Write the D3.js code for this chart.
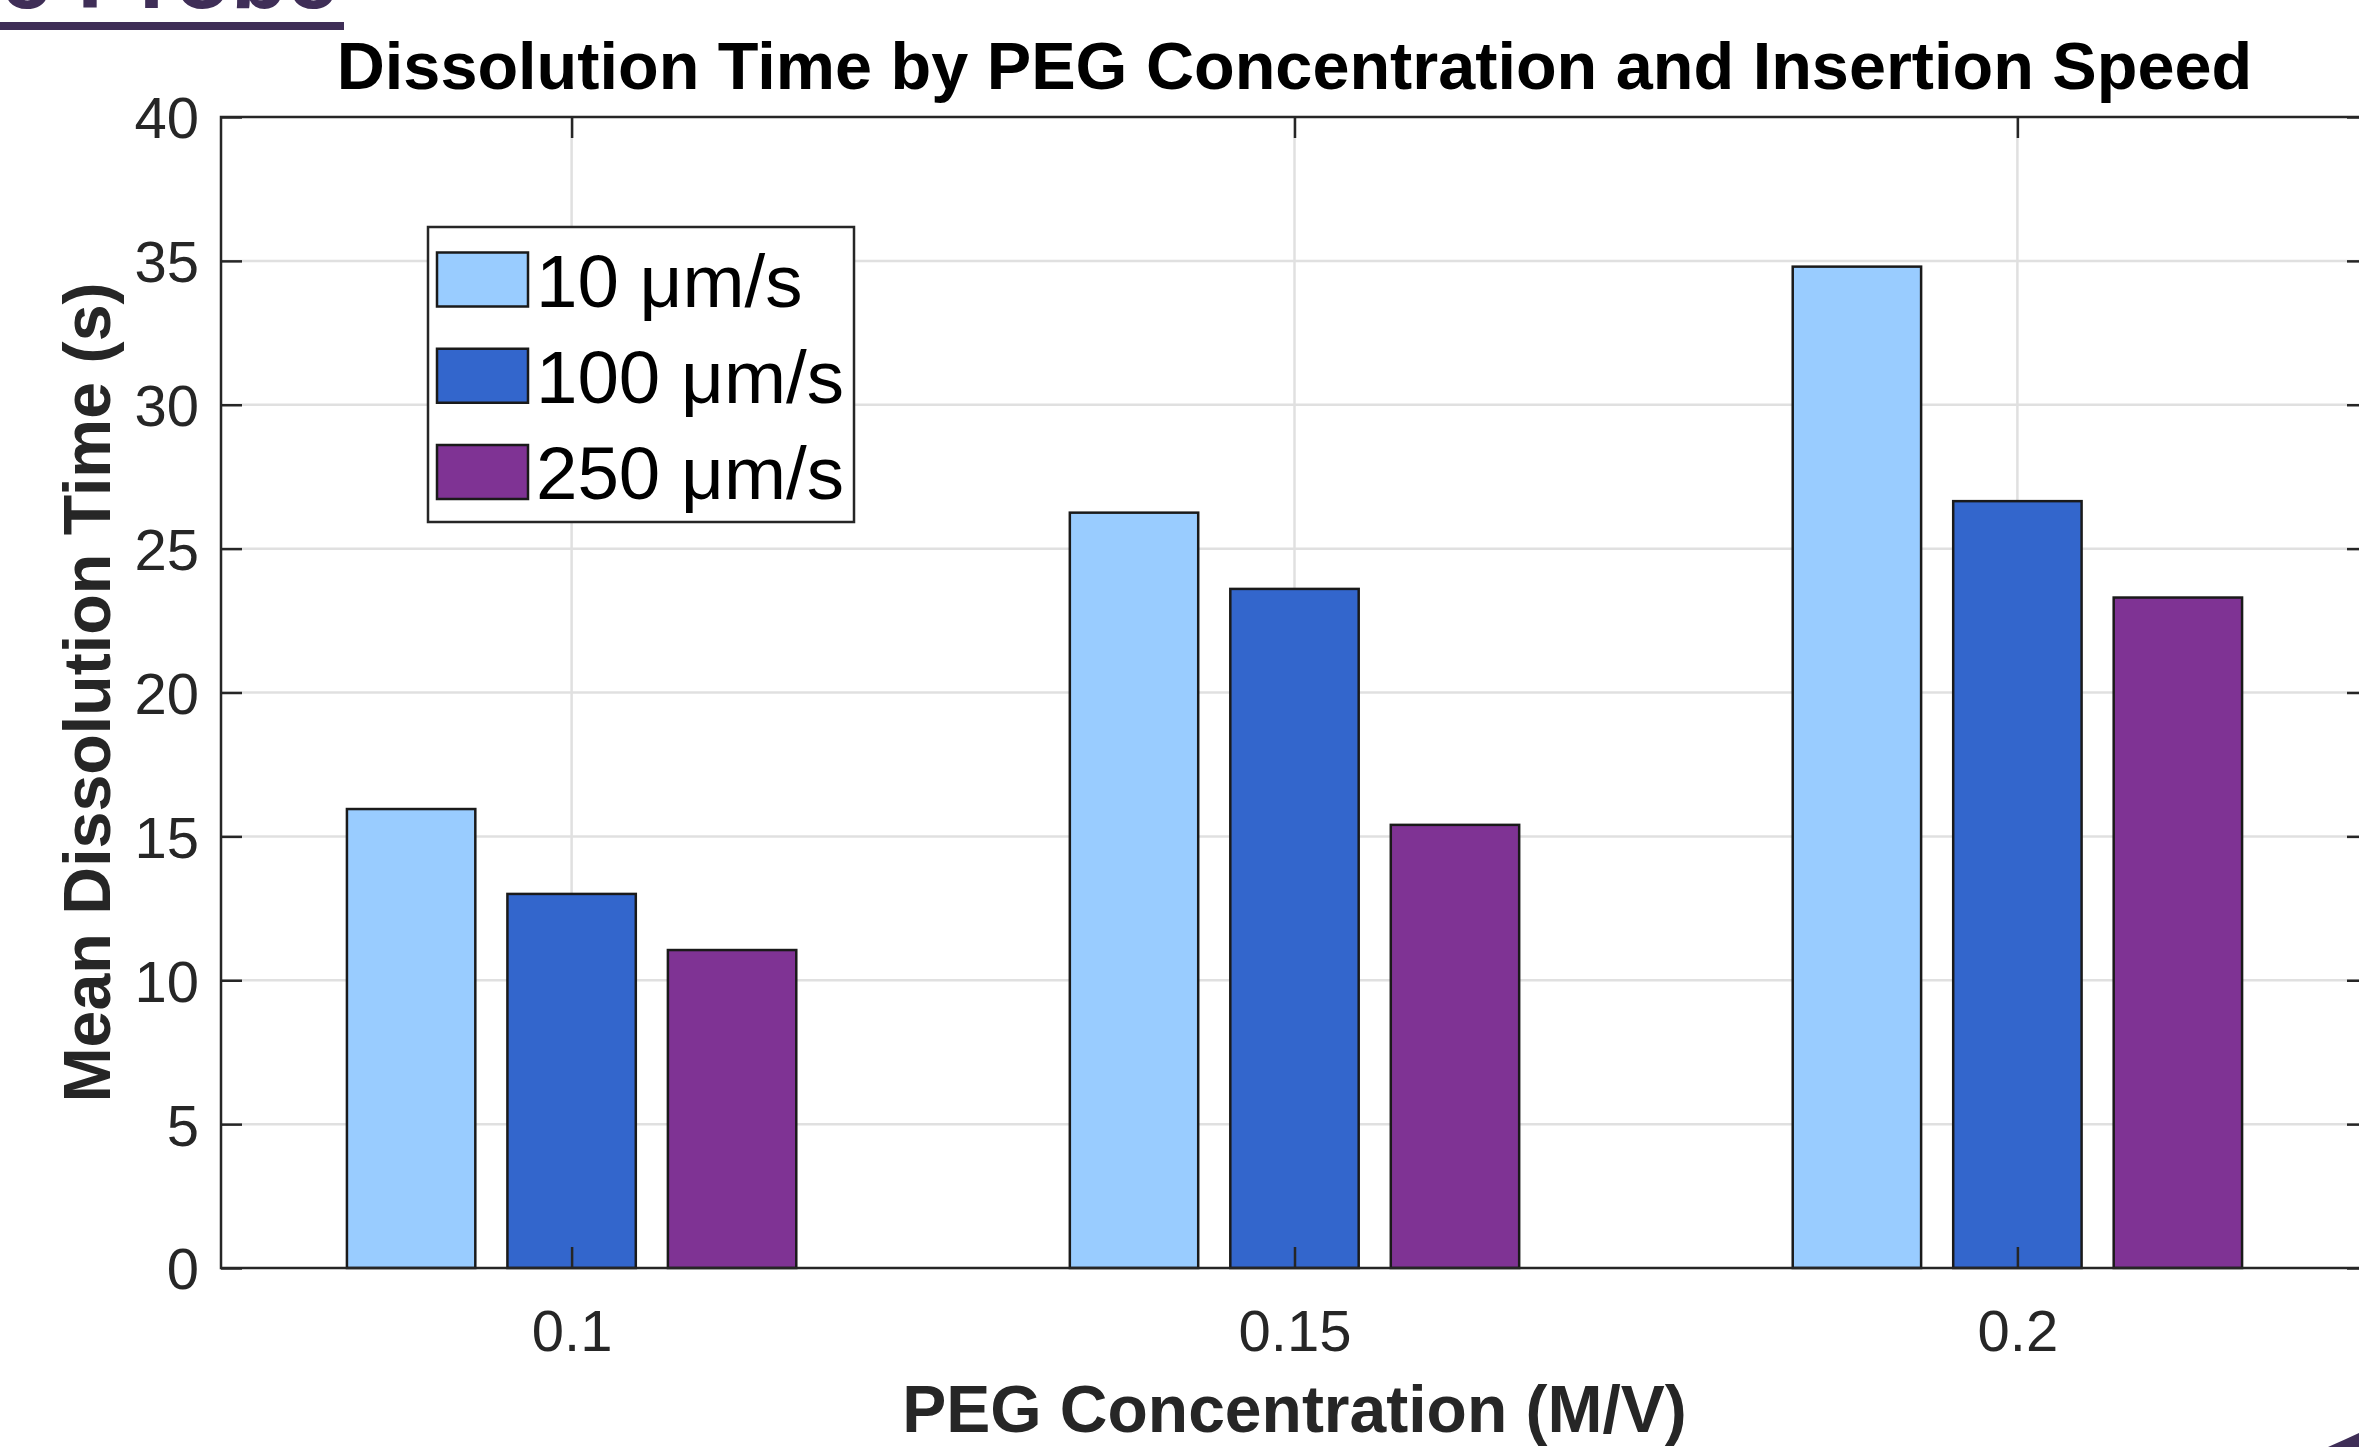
<!DOCTYPE html>
<html>
<head>
<meta charset="utf-8">
<script src="https://cdn.jsdelivr.net/npm/d3@7"></script>
<style>
  html, body { margin: 0; padding: 0; background: #ffffff; }
  svg { display: block; }
  text { font-family: "Liberation Sans", Arial, Helvetica, sans-serif; }
</style>
</head>
<body>
<svg id="chart" width="2359" height="1447"></svg>
<script>
// ---- data ----
const concentrations = [0.1, 0.15, 0.2];
const xTickLabels = ["0.1", "0.15", "0.2"];
const seriesNames = ["10 μm/s", "100 μm/s", "250 μm/s"];
const speed10 = [15.95, 26.25, 34.8];
const speed100 = [13.0, 23.6, 26.65];
const speed250 = [11.05, 15.4, 23.3];
const yTicks = [0, 5, 10, 15, 20, 25, 30, 35, 40];
const seriesColors = ["#99ccff", "#3366cc", "#7f3394"];

const seriesValues = [speed10, speed100, speed250];

// ---- layout ----
const W = 2359, H = 1447;
const plot = { left: 221, right: 2368, top: 117, bottom: 1268 };
const svg = d3.select("#chart");

const x = d3.scaleLinear().domain([0.07575, 0.22425]).range([plot.left, plot.right]);
const y = d3.scaleLinear().domain([0, 40]).range([plot.bottom, plot.top]);

const groupHalf = 0.01665;
const groupPx = x(0.1 + groupHalf) - x(0.1 - groupHalf);
const xSub = d3.scaleBand().domain(seriesNames)
  .range([-groupPx / 2, groupPx / 2]).paddingInner(0.2).paddingOuter(0.1);

const axisColor = "#262626";

// ---- slide decoration (cropped heading + corner) ----
const deco = "#3f2e57";
svg.append("text").attr("x", 338).attr("y", 8).attr("text-anchor", "end")
  .attr("font-size", 92).attr("font-weight", "bold").attr("fill", deco).text("e Probe");
svg.append("rect").attr("x", 0).attr("y", 22).attr("width", 344).attr("height", 8).attr("fill", deco);
svg.append("path").attr("d", "M2328,1447 Q2344,1440 2359,1433 L2359,1447 Z").attr("fill", deco);

// ---- grid ----
const grid = svg.append("g");
grid.selectAll("line.gy").data(yTicks.slice(1, -1)).join("line")
  .attr("x1", plot.left).attr("x2", plot.right)
  .attr("y1", d => y(d)).attr("y2", d => y(d))
  .attr("stroke", "#e0e0e0").attr("stroke-width", 2.5);
grid.selectAll("line.gx").data(concentrations).join("line")
  .attr("x1", d => x(d)).attr("x2", d => x(d))
  .attr("y1", plot.top).attr("y2", plot.bottom)
  .attr("stroke", "#e0e0e0").attr("stroke-width", 2.5);

// ---- bars ----
const barsG = svg.append("g");
seriesNames.forEach((name, si) => {
  barsG.append("g").selectAll("rect").data(concentrations).join("rect")
    .attr("x", (d) => x(d) + xSub(name))
    .attr("width", xSub.bandwidth())
    .attr("y", (d, i) => y(seriesValues[si][i]))
    .attr("height", (d, i) => y(0) - y(seriesValues[si][i]))
    .attr("fill", seriesColors[si])
    .attr("stroke", "#1a1a1a").attr("stroke-width", 2.5);
});

// ---- axes ----
const tickLen = 21;
const yAxis = d3.axisLeft(y).tickValues(yTicks).tickFormat(d3.format("d"))
  .tickSize(-tickLen).tickSizeOuter(0).tickPadding(22);
const gy = svg.append("g").attr("transform", `translate(${plot.left},0)`).call(yAxis);
const xAxis = d3.axisBottom(x).tickValues(concentrations)
  .tickFormat((d, i) => xTickLabels[i]).tickSize(-tickLen).tickSizeOuter(0).tickPadding(42);
const gx = svg.append("g").attr("transform", `translate(0,${plot.bottom})`).call(xAxis);
const yAxisR = d3.axisRight(y).tickValues(yTicks).tickFormat("").tickSize(-tickLen).tickSizeOuter(0);
const gyr = svg.append("g").attr("transform", `translate(${plot.right},0)`).call(yAxisR);
const xAxisT = d3.axisTop(x).tickValues(concentrations).tickFormat("").tickSize(-tickLen).tickSizeOuter(0);
const gxt = svg.append("g").attr("transform", `translate(0,${plot.top})`).call(xAxisT);

[gy, gx, gyr, gxt].forEach(g => {
  g.select(".domain").remove();
  g.selectAll(".tick line").attr("stroke", axisColor).attr("stroke-width", 2.5);
  g.selectAll(".tick text").attr("fill", axisColor).attr("font-size", 58)
    .style("font-family", "'Liberation Sans', Arial, sans-serif");
});
gy.selectAll(".tick text").attr("dy", "0.36em");

svg.append("rect").attr("x", plot.left).attr("y", plot.top)
  .attr("width", plot.right - plot.left).attr("height", plot.bottom - plot.top)
  .attr("fill", "none").attr("stroke", axisColor).attr("stroke-width", 2.5);

// ---- titles ----
svg.append("text").attr("x", (plot.left + plot.right) / 2).attr("y", 89)
  .attr("text-anchor", "middle").attr("font-size", 66.6).attr("font-weight", "bold")
  .attr("fill", "#000").text("Dissolution Time by PEG Concentration and Insertion Speed");
svg.append("text").attr("x", (plot.left + plot.right) / 2).attr("y", 1432)
  .attr("text-anchor", "middle").attr("font-size", 66).attr("font-weight", "bold")
  .attr("fill", axisColor).text("PEG Concentration (M/V)");
svg.append("text").attr("transform", `translate(110,${(plot.top + plot.bottom) / 2}) rotate(-90)`)
  .attr("text-anchor", "middle").attr("font-size", 66.3).attr("font-weight", "bold")
  .attr("fill", axisColor).text("Mean Dissolution Time (s)");

// ---- legend ----
const lg = svg.append("g");
lg.append("rect").attr("x", 428).attr("y", 227).attr("width", 426).attr("height", 295)
  .attr("fill", "#fff").attr("stroke", axisColor).attr("stroke-width", 2.5);
const rowY = d3.scalePoint().domain(seriesNames).range([279.5, 472]);
seriesNames.forEach((name, i) => {
  lg.append("rect").attr("x", 437).attr("y", rowY(name) - 27).attr("width", 91).attr("height", 54)
    .attr("fill", seriesColors[i]).attr("stroke", "#1a1a1a").attr("stroke-width", 2.5);
  lg.append("text").attr("x", 536).attr("y", rowY(name) + 27).attr("font-size", 74.5)
    .attr("fill", "#000").text(name);
});
</script>
</body>
</html>
